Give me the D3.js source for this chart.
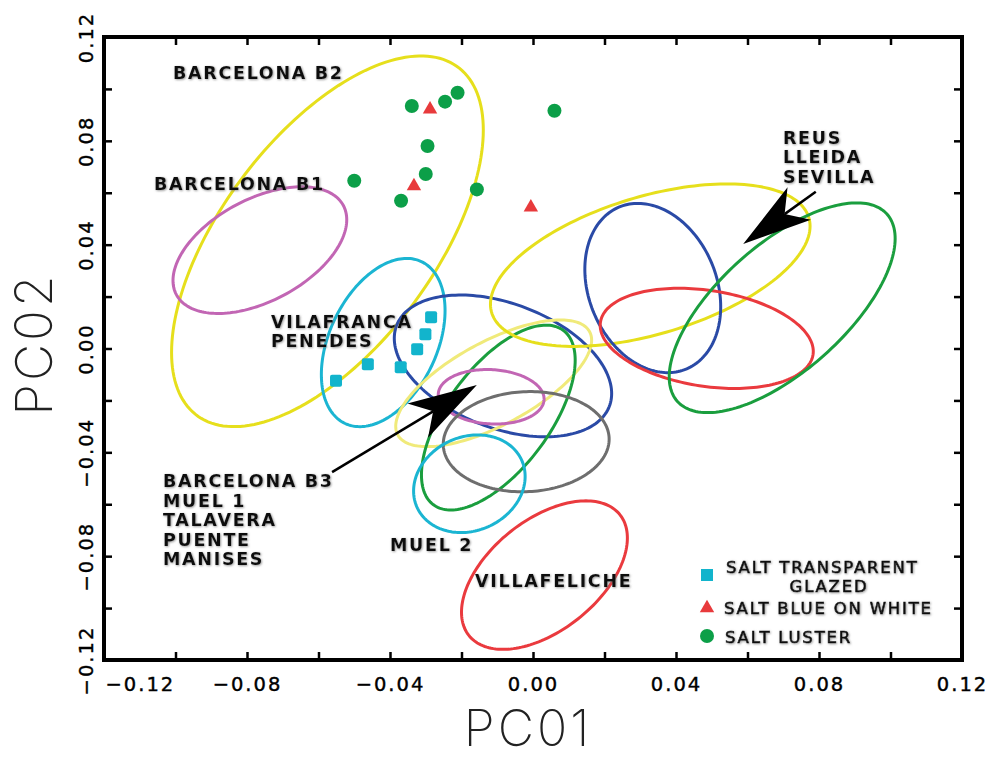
<!DOCTYPE html>
<html>
<head>
<meta charset="utf-8">
<script src="https://cdn.jsdelivr.net/npm/d3@7"></script>
<style>
    body { margin: 0; background: #fff; }
</style>
</head>
<body>
<div class="vis-pca"></div>
<script>
// sample scores on PC01 / PC02
const saltTransparent = [
    [-0.0285, 0.0120], [-0.0301, 0.0055], [-0.0324, -0.0003],
    [-0.0462, -0.0061], [-0.0370, -0.0072], [-0.0551, -0.0124]
];
const saltBlueOnWhite = [
    [-0.0288, 0.0921], [-0.0333, 0.0626], [-0.0006, 0.0544]
];
const saltLuster = [
    [-0.0339, 0.0934], [-0.0246, 0.0951], [-0.0211, 0.0985],
    [0.0060, 0.0916], [-0.0295, 0.0780], [-0.0300, 0.0672],
    [-0.0500, 0.0646], [-0.0369, 0.0569], [-0.0157, 0.0613]
];

// reference group ellipses: centre x, centre y, half-width x, half-height y, correlation
const groupEllipses = [
    [-0.0575, 0.0413, 0.0436, 0.0714, 0.60],   // barcelona b2
    [-0.0764, 0.0379, 0.0243, 0.0244, 0.48],   // barcelona b1
    [-0.0419, 0.0023, 0.0173, 0.0324, 0.38],   // vilafranca penedes
    [-0.0084, -0.0067, 0.0304, 0.0273, -0.39], // barcelona b3
    [-0.0110, -0.0134, 0.0274, 0.0244, 0.68],  // muel 1
    [-0.0097, -0.0266, 0.0215, 0.0356, 0.62],  // talavera
    [-0.0117, -0.0186, 0.0148, 0.0105, -0.08], // puente
    [-0.0019, -0.0359, 0.0232, 0.0193, 0.05],  // manises
    [-0.0178, -0.0521, 0.0156, 0.0188, 0.15],  // muel 2
    [0.0032, -0.0873, 0.0232, 0.0286, 0.50],   // villafeliche
    [0.0328, 0.0321, 0.0447, 0.0313, 0.48],    // reus
    [0.0335, 0.0233, 0.0190, 0.0326, -0.22],   // lleida
    [0.0486, 0.0039, 0.0298, 0.0193, -0.26],   // sevilla
    [0.0697, 0.0157, 0.0316, 0.0404, 0.66]     // sevilla 2
];
const ellipseColors = ['#e6df1c', '#c266b4', '#1bb5d2', '#2a4aa6', '#f0ea7a', '#1a9e3e', '#c266b4',
    '#6e6e6e', '#1bb5d2', '#ea3a3e', '#e6df1c', '#2a4aa6', '#ea3a3e', '#1a9e3e'];

// group labels: text lines, anchor (x, y of first baseline)
const groupLabels = [
    {lines: ['BARCELONA B2'], at: [-0.1007, 0.1038]},
    {lines: ['BARCELONA B1'], at: [-0.1060, 0.0611]},
    {lines: ['VILAFRANCA', 'PENEDES'], at: [-0.0733, 0.0079]},
    {lines: ['REUS', 'LLEIDA', 'SEVILLA'], at: [0.0699, 0.0788]},
    {lines: ['BARCELONA B3', 'MUEL 1', 'TALAVERA', 'PUENTE', 'MANISES'], at: [-0.1035, -0.0534]},
    {lines: ['MUEL 2'], at: [-0.0400, -0.0780]},
    {lines: ['VILLAFELICHE'], at: [-0.0162, -0.0919]}
];
// arrows: from, tip
const arrows = [
    [[-0.0562, -0.0476], [-0.0157, -0.0141]],
    [[0.0791, 0.0604], [0.0588, 0.0403]]
];

const tickValues = [-0.12, -0.10, -0.08, -0.06, -0.04, -0.02, 0, 0.02, 0.04, 0.06, 0.08, 0.10, 0.12];
const labelledTicks = [-0.12, -0.08, -0.04, 0, 0.04, 0.08, 0.12];
const legendItems = ['SALT TRANSPARENT', 'SALT BLUE ON WHITE', 'SALT LUSTER'];


const outerWidth = 988, outerHeight = 760;
const margin = {top: 37, right: 26, bottom: 100, left: 104};
const width = outerWidth - margin.left - margin.right;
const height = outerHeight - margin.top - margin.bottom;

const svg = d3.select('.vis-pca')
    .append('svg')
    .attr('width', outerWidth)
    .attr('height', outerHeight);

const defs = svg.append('defs');
defs.append('filter')
    .attr('id', 'shadow')
    .attr('x', '-10%').attr('y', '-30%').attr('width', '120%').attr('height', '160%')
    .append('feDropShadow')
    .attr('dx', 0.8).attr('dy', 0.8).attr('stdDeviation', 0.8)
    .attr('flood-color', '#777').attr('flood-opacity', 0.8);

const g = svg.append('g')
    .attr('transform', 'translate(' + margin.left + ',' + margin.top + ')');

const x = d3.scaleLinear().domain([-0.12, 0.12]).range([0, width]);
const y = d3.scaleLinear().domain([-0.12, 0.12]).range([height, 0]);

const isLabelled = v => labelledTicks.some(t => Math.abs(t - v) < 1e-9);
const fmt = d3.format('.2f');

// axes, ticks pointing inward on all four sides
const bottomAxis = g.append('g')
    .attr('transform', 'translate(0,' + height + ')')
    .call(d3.axisBottom(x).tickValues(tickValues).tickSizeInner(-8).tickSizeOuter(0)
        .tickFormat(v => isLabelled(v) ? fmt(v) : ''));
const leftAxis = g.append('g')
    .call(d3.axisLeft(y).tickValues(tickValues).tickSizeInner(-8).tickSizeOuter(0)
        .tickFormat(v => isLabelled(v) ? fmt(v) : ''));
g.append('g')
    .call(d3.axisTop(x).tickValues(tickValues).tickSizeInner(-8).tickSizeOuter(0).tickFormat(''));
g.append('g')
    .attr('transform', 'translate(' + width + ',0)')
    .call(d3.axisRight(y).tickValues(tickValues).tickSizeInner(-8).tickSizeOuter(0).tickFormat(''));

g.selectAll('.domain').remove();
g.selectAll('.tick line').attr('stroke', '#000').attr('stroke-width', 2.5);

bottomAxis.selectAll('text')
    .attr('y', 31).attr('dy', 0)
    .attr('text-anchor', d => d === -0.12 ? 'start' : 'middle')
    .attr('x', d => d === -0.12 ? 1 : 0);
leftAxis.selectAll('text')
    .attr('transform', 'rotate(-90)')
    .attr('x', 0).attr('y', -11).attr('dy', 0)
    .attr('text-anchor', 'middle');
g.selectAll('.tick text')
    .style('font-family', '"DejaVu Sans", sans-serif')
    .style('font-size', '19.5px')
    .style('letter-spacing', '2px')
    .attr('fill', '#000')
    .attr('stroke', '#000')
    .attr('stroke-width', 0.4);

g.append('rect')
    .attr('width', width)
    .attr('height', height)
    .attr('fill', 'none')
    .attr('stroke', '#000')
    .attr('stroke-width', 4);

// ellipses
const angles = d3.range(0, 2 * Math.PI, Math.PI / 90);
const ellipseLine = d3.line()
    .x(d => x(d[0]))
    .y(d => y(d[1]))
    .curve(d3.curveLinearClosed);

g.selectAll('.ellipse')
    .data(groupEllipses)
    .enter()
    .append('path')
    .attr('class', 'ellipse')
    .attr('d', e => ellipseLine(angles.map(t => [
        e[0] + e[2] * Math.cos(t),
        e[1] + e[3] * (e[4] * Math.cos(t) + Math.sqrt(1 - e[4] * e[4]) * Math.sin(t))
    ])))
    .attr('fill', 'none')
    .attr('stroke', (d, i) => ellipseColors[i])
    .attr('stroke-width', 3);

// points
g.selectAll('.sq')
    .data(saltTransparent)
    .enter().append('rect')
    .attr('class', 'sq')
    .attr('x', d => x(d[0]) - 6)
    .attr('y', d => y(d[1]) - 6)
    .attr('width', 12).attr('height', 12).attr('rx', 2)
    .attr('fill', '#12b4cc');

const triangle = d3.symbol().type(d3.symbolTriangle).size(90);
g.selectAll('.tri')
    .data(saltBlueOnWhite)
    .enter().append('path')
    .attr('class', 'tri')
    .attr('d', triangle)
    .attr('transform', d => 'translate(' + x(d[0]) + ',' + y(d[1]) + ')')
    .attr('fill', '#e83a3c');

g.selectAll('.dot')
    .data(saltLuster)
    .enter().append('circle')
    .attr('class', 'dot')
    .attr('cx', d => x(d[0]))
    .attr('cy', d => y(d[1]))
    .attr('r', 7)
    .attr('fill', '#0c9f48');

// arrows
const arrowG = g.selectAll('.arrow')
    .data(arrows)
    .enter().append('g')
    .attr('class', 'arrow');

arrowG.each(function (d) {
    const s = [x(d[0][0]), y(d[0][1])];
    const t = [x(d[1][0]), y(d[1][1])];
    const len = Math.hypot(t[0] - s[0], t[1] - s[1]);
    const ux = (t[0] - s[0]) / len, uy = (t[1] - s[1]) / len;
    const headLen = 69, headW = 20, notch = 51;
    const n = [t[0] - ux * notch, t[1] - uy * notch];
    const b1 = [t[0] - ux * headLen - uy * headW, t[1] - uy * headLen + ux * headW];
    const b2 = [t[0] - ux * headLen + uy * headW, t[1] - uy * headLen - ux * headW];
    d3.select(this).append('line')
        .attr('x1', s[0]).attr('y1', s[1])
        .attr('x2', n[0]).attr('y2', n[1])
        .attr('stroke', '#000').attr('stroke-width', 2.5);
    d3.select(this).append('path')
        .attr('d', 'M' + [t, b1, n, b2].join('L') + 'Z')
        .attr('fill', '#000');
});

// group labels
const labelG = g.selectAll('.group-label')
    .data(groupLabels)
    .enter().append('text')
    .attr('class', 'group-label')
    .attr('x', d => x(d.at[0]))
    .attr('y', d => y(d.at[1]))
    .style('font-family', '"DejaVu Sans", sans-serif')
    .style('font-weight', 'bold')
    .style('font-size', '17.5px')
    .style('letter-spacing', '1.7px')
    .attr('fill', '#111')
    .attr('filter', 'url(#shadow)');

labelG.selectAll('tspan')
    .data(d => d.lines.map(l => ({l: l, x: x(d.at[0])})))
    .enter().append('tspan')
    .attr('x', d => d.x)
    .attr('dy', (d, i) => i === 0 ? 0 : 19.5)
    .text(d => d.l);

// legend
const legend = g.append('g')
    .attr('transform', 'translate(' + (603 - margin.left) + ',' + (575 - margin.top) + ')');
const legendStyle = sel => sel
    .style('font-family', '"DejaVu Sans", sans-serif')
    .style('font-size', '16.5px')
    .style('letter-spacing', '1.8px')
    .attr('fill', '#111')
    .attr('stroke', '#111')
    .attr('stroke-width', 0.6)
    .attr('filter', 'url(#shadow)');

legend.append('rect')
    .attr('x', 98).attr('y', -6).attr('width', 12).attr('height', 12)
    .attr('fill', '#12b4cc');
legend.append('path')
    .attr('d', triangle)
    .attr('transform', 'translate(104,33)')
    .attr('fill', '#e83a3c');
legend.append('circle')
    .attr('cx', 104).attr('cy', 61).attr('r', 7)
    .attr('fill', '#0c9f48');

legend.append('text').attr('x', 123).attr('y', -2).text(legendItems[0]).call(legendStyle);
legend.append('text').attr('x', 226).attr('y', 17).attr('text-anchor', 'middle').text('GLAZED').call(legendStyle);
legend.append('text').attr('x', 121).attr('y', 39).text(legendItems[1]).call(legendStyle);
legend.append('text').attr('x', 122).attr('y', 68).text(legendItems[2]).call(legendStyle);

// axis titles
svg.append('text')
    .attr('x', margin.left + width / 2 - 5)
    .attr('y', 746)
    .attr('text-anchor', 'middle')
    .style('font-family', 'Inter, "Liberation Sans", sans-serif')
    .style('font-weight', 200)
    .style('font-size', '50px')
    .style('letter-spacing', '3px')
    .attr('fill', '#222')
    .text('PC01');

svg.append('text')
    .attr('transform', 'translate(52,' + 344 + ') rotate(-90)')
    .attr('text-anchor', 'middle')
    .style('font-family', 'Inter, "Liberation Sans", sans-serif')
    .style('font-weight', 200)
    .style('font-size', '51px')
    .style('letter-spacing', '3px')
    .attr('fill', '#222')
    .text('PC02');
</script>
</body>
</html>
